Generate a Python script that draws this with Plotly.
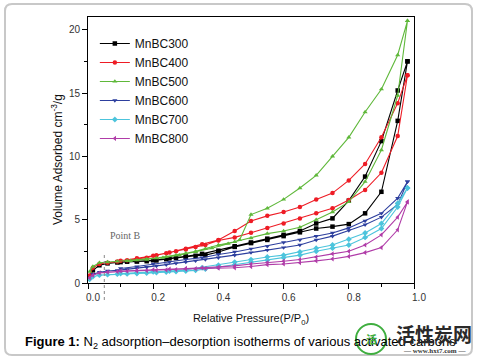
import plotly.graph_objects as go

# ---------------- data (P/P0, volume adsorbed) ----------------
names = ["MnBC300", "MnBC400", "MnBC500", "MnBC600", "MnBC700", "MnBC800"]

p_ads = [0.005, 0.015, 0.035, 0.06, 0.09, 0.12, 0.15, 0.18, 0.21, 0.24, 0.27, 0.30,
         0.33, 0.36, 0.40, 0.45, 0.50, 0.55, 0.60, 0.65, 0.70, 0.75, 0.80, 0.85,
         0.90, 0.95, 0.98]
p_des = [0.98, 0.95, 0.90, 0.85, 0.80, 0.75, 0.70, 0.65, 0.60, 0.55, 0.50, 0.45,
         0.40, 0.35, 0.30, 0.25, 0.20, 0.15, 0.10]
p_des_500 = [0.98, 0.95, 0.90, 0.85, 0.80, 0.75, 0.70, 0.65, 0.60, 0.55, 0.50, 0.465,
             0.43, 0.38, 0.33, 0.28, 0.23, 0.18, 0.13]

ads_300 = [0.5, 1.0, 1.4, 1.55, 1.62, 1.68, 1.7, 1.72, 1.78, 1.88, 1.97, 2.07,
           2.15, 2.2, 2.45, 2.85, 3.15, 3.4, 3.7, 4.0, 4.3, 4.45, 4.65, 5.5,
           7.2, 12.8, 17.5]
des_300 = [17.5, 15.2, 11.2, 8.4, 6.5, 5.1, 4.7, 4.1, 3.8, 3.5, 3.2, 2.9,
           2.55, 2.3, 2.1, 1.95, 1.8, 1.72, 1.65]

ads_400 = [0.6, 1.2, 1.5, 1.6, 1.7, 1.8, 1.9, 2.0, 2.2, 2.35, 2.5, 2.65,
           2.85, 3.0, 3.35, 3.6, 3.97, 4.35, 4.7, 5.1, 5.5, 5.9, 6.55, 7.35,
           8.7, 11.6, 16.4]
des_400 = [16.4, 14.2, 11.5, 9.4, 8.1, 7.1, 6.6, 6.0, 5.6, 5.3, 4.9, 4.1,
           3.4, 3.05, 2.7, 2.4, 2.15, 1.95, 1.75]

ads_500 = [0.9, 1.3, 1.6, 1.65, 1.7, 1.75, 1.8, 1.88, 1.97, 2.08, 2.2, 2.35,
           2.5, 2.7, 3.0, 3.25, 3.55, 3.9, 4.1, 4.4, 5.0, 5.6, 6.4, 8.0,
           10.5, 14.8, 20.7]
des_500 = [20.7, 18.0, 15.3, 13.5, 11.5, 10.0, 8.5, 7.5, 6.6, 5.9, 5.4, 3.4,
           3.1, 2.75, 2.45, 2.2, 2.0, 1.85, 1.75]

ads_600 = [0.4, 0.7, 0.85, 0.95, 1.0, 1.08, 1.15, 1.25, 1.35, 1.45, 1.55, 1.65,
           1.75, 1.85, 2.0, 2.2, 2.4, 2.6, 2.8, 3.0, 3.4, 3.7, 4.15, 4.6,
           5.2, 6.2, 8.0]
des_600 = [8.0, 6.7, 5.5, 4.9, 4.35, 3.95, 3.7, 3.4, 3.2, 2.9, 2.7, 2.45,
           2.25, 2.0, 1.85, 1.65, 1.5, 1.3, 1.15]

ads_700 = [0.3, 0.5, 0.62, 0.66, 0.7, 0.72, 0.75, 0.78, 0.82, 0.86, 0.9, 0.95,
           1.0, 1.1, 1.25, 1.45, 1.65, 1.8, 2.0, 2.2, 2.5, 2.75, 3.0, 3.6,
           4.3, 6.0, 7.5]
des_700 = [7.5, 6.3, 4.7, 3.95, 3.45, 3.0, 2.75, 2.45, 2.2, 2.05, 1.85, 1.65,
           1.4, 1.2, 1.05, 0.95, 0.88, 0.8, 0.75]

ads_800 = [0.4, 0.62, 0.8, 0.86, 0.9, 0.93, 0.95, 0.98, 1.0, 1.03, 1.06, 1.1,
           1.13, 1.15, 1.17, 1.2, 1.3, 1.45, 1.5, 1.6, 1.75, 1.9, 2.1, 2.4,
           2.8, 4.2, 6.4]
des_800 = [6.4, 5.2, 3.8, 3.0, 2.5, 2.3, 2.05, 1.85, 1.72, 1.62, 1.5, 1.35,
           1.25, 1.2, 1.15, 1.1, 1.05, 1.0, 0.95]

x_ticks = [0.0, 0.2, 0.4, 0.6, 0.8, 1.0]
x_ticklabels = ["0.0", "0.2", "0.4", "0.6", "0.8", "1.0"]
y_ticks = [0, 5, 10, 15, 20]

# ---------------- styling ----------------
colors = ["#000000", "#ee1c25", "#5fb83a", "#2d3f9e", "#4cc4dc", "#b03ca8"]
symbols = ["square", "circle", "triangle-up", "triangle-down", "diamond", "triangle-left"]
ads_all = [ads_300, ads_400, ads_500, ads_600, ads_700, ads_800]
des_all = [des_300, des_400, des_500, des_600, des_700, des_800]
pdes_all = [p_des, p_des, p_des_500, p_des, p_des, p_des]

W, H = 481, 363
L, R, T, B = 88, 414, 17, 283


def px(x):
    return (x - L) / (R - L)


def py(y):
    return (B - y) / (B - T)


fig = go.Figure()
for n, c, s, a, d, pd_ in zip(names, colors, symbols, ads_all, des_all, pdes_all):
    fig.add_trace(go.Scatter(
        x=p_ads + pd_, y=a + d, name=n, mode="lines+markers",
        line=dict(color=c, width=1.1),
        marker=dict(color=c, symbol=s, size=4.5, line=dict(width=0)),
    ))

font_main = "Arial, Liberation Sans, sans-serif"

shapes = []
# rounded frame around the figure
x0, x1, y0, y1, r = 5, 472, 4, 355, 7
path = (f"M {px(x0 + r)},{py(y0)} L {px(x1 - r)},{py(y0)} Q {px(x1)},{py(y0)} {px(x1)},{py(y0 + r)} "
        f"L {px(x1)},{py(y1 - r)} Q {px(x1)},{py(y1)} {px(x1 - r)},{py(y1)} "
        f"L {px(x0 + r)},{py(y1)} Q {px(x0)},{py(y1)} {px(x0)},{py(y1 - r)} "
        f"L {px(x0)},{py(y0 + r)} Q {px(x0)},{py(y0)} {px(x0 + r)},{py(y0)} Z")
shapes.append(dict(type="path", xref="paper", yref="paper", path=path,
                   line=dict(color="#c8c8c8", width=2), layer="below"))
# dotted "Point B" marker line
shapes.append(dict(type="line", xref="x", yref="paper", x0=0.05, x1=0.05,
                   y0=py(255), y1=py(303), line=dict(color="#888888", width=1, dash="dot")))
# watermark logo circle
shapes.append(dict(type="circle", xref="paper", yref="paper",
                   x0=px(356), x1=px(386), y0=py(324), y1=py(354),
                   line=dict(color="#3fae3f", width=2)))

annotations = [
    dict(x=px(57), y=py(160), xref="paper", yref="paper", text="Volume Adsorbed cm<sup>-3</sup>/g",
         showarrow=False, textangle=-90, xanchor="center", yanchor="middle",
         font=dict(family=font_main, size=12, color="#111111")),
    dict(x=0.062, y=3.75, xref="x", yref="y", text="Point B", showarrow=False,
         xanchor="left", yanchor="middle",
         font=dict(family="Liberation Serif, Times New Roman, serif", size=10, color="#666666")),
    dict(x=px(23), y=py(342), xref="paper", yref="paper", xanchor="left", yanchor="middle",
         showarrow=False,
         text="<b>Figure 1:</b> N<sub>2</sub> adsorption–desorption isotherms of various activated carbons",
         font=dict(family=font_main, size=13, color="#000000")),
    dict(x=px(371), y=py(339), xref="paper", yref="paper", xanchor="center", yanchor="middle",
         showarrow=False, text="<b>活</b>",
         font=dict(family="Noto Sans CJK SC", size=11, color="#3fae3f")),
    dict(x=px(434), y=py(333), xref="paper", yref="paper", xanchor="center", yanchor="middle",
         showarrow=False, text="<b>活性炭网</b>",
         font=dict(family="Noto Sans CJK SC", size=19, color="#2a2a2a")),
    dict(x=px(434), y=py(351), xref="paper", yref="paper", xanchor="center", yanchor="middle",
         showarrow=False, text="<b>— www.hxt7.com —</b>",
         font=dict(family="Liberation Serif, serif", size=7, color="#333333")),
]

fig.update_layout(
    width=W, height=H,
    margin=dict(l=L, r=W - R, t=T, b=H - B, pad=0),
    paper_bgcolor="white", plot_bgcolor="white",
    font=dict(family=font_main, size=11, color="#222222"),
    showlegend=True,
    legend=dict(x=0.021, y=0.955, xanchor="left", yanchor="top",
                bgcolor="rgba(0,0,0,0)", font=dict(size=12, color="#111111"),
                itemwidth=30, tracegroupgap=0),
    shapes=shapes,
    annotations=annotations,
    xaxis=dict(range=[0, 1], tickvals=x_ticks, ticktext=x_ticklabels,
               showgrid=False, zeroline=False, showline=True, linecolor="black",
               linewidth=1, mirror=True, ticks="outside", ticklen=5, tickcolor="black",
               ticklabelshift=5,
               tickfont=dict(size=10, color="#333333"),
               minor=dict(dtick=0.1, ticks="outside", ticklen=3, tickcolor="black"),
               title=dict(text="Relative Pressure(P/P<sub>0</sub>)", standoff=12,
                          font=dict(size=11, color="#111111"))),
    yaxis=dict(range=[0, 21], tickvals=y_ticks,
               showgrid=False, zeroline=False, showline=True, linecolor="black",
               linewidth=1, mirror=True, ticks="outside", ticklen=5, tickcolor="black",
               tickfont=dict(size=10, color="#333333"),
               minor=dict(dtick=2.5, ticks="outside", ticklen=3, tickcolor="black")),
)

fig.write_html("out.html", config={"displayModeBar": False},
               post_script="document.body.style.margin='0';")
